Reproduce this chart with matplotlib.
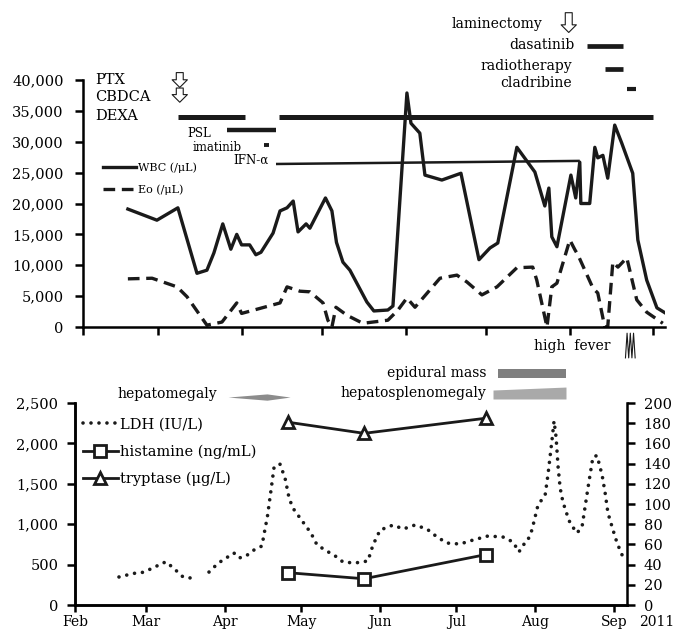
import numpy as np
import matplotlib
matplotlib.use('Agg')
import matplotlib.pyplot as plt
matplotlib.rcParams['font.family'] = 'DejaVu Serif'
matplotlib.rcParams['axes.spines.right'] = False
matplotlib.rcParams['axes.spines.top'] = False
matplotlib.rcParams['axes.linewidth'] = 1.8

# days counted from 1 Feb 2011
month_days = [0, 28, 59, 89, 120, 150, 181, 212]
month_labels = ['Feb', 'Mar', 'Apr', 'May', 'Jun', 'Jul', 'Aug', 'Sep']

wbc_day = [16.7, 27.5, 35.3, 42.4, 46.1, 48.7, 52.0, 55.0, 57.2, 59.0, 62.0, 64.3, 66.2, 70.7,
           73.3, 75.9, 78.2, 80.0, 83.0, 84.4, 90.2, 92.6, 94.3, 96.7, 99.3, 105.6, 108.2,
           113.4, 115.3, 120.5, 122.0, 125.3, 127.2, 133.5, 140.6, 147.3, 151.4, 154.3,
           161.4, 168.1, 171.8, 173.3, 174.4, 176.3, 181.5, 183.3, 184.8, 185.2, 188.5,
           190.4, 191.5, 193.4, 195.2, 197.8, 200.4, 204.5, 206.4, 209.7, 213.5, 216.5]
wbc = [19100, 17300, 19300, 8700, 9200, 12000, 16700, 12600, 15000, 13300, 13300, 11700,
       12100, 15200, 18800, 19300, 20400, 15400, 16700, 16000, 20900, 18800, 13700, 10500,
       9200, 4050, 2600, 2750, 3400, 37900, 33000, 31400, 24600, 23800, 24900, 10900, 12800,
       13600, 29100, 25100, 19600, 22500, 14600, 13000, 24600, 20900, 26700, 20000, 20000,
       29100, 27400, 27800, 24100, 32700, 29800, 24900, 14100, 7600, 3100, 2300]

eo_day = [16.7, 25.7, 35.0, 38.7, 46.1, 51.7, 57.2, 59.0, 73.3, 75.9, 80.7, 84.4, 89.3, 91.1,
          92.6, 94.1, 98.2, 104.1, 113.4, 117.1, 120.5, 123.5, 132.8, 139.1, 142.8, 148.4,
          154.0, 161.4, 167.3, 168.8, 172.6, 174.4, 176.3, 181.1, 183.0, 184.1, 189.7, 191.5,
          194.1, 195.2, 197.1, 199.0, 202.3, 206.0, 209.7, 215.7]
eo = [7800, 7900, 6500, 4900, 300, 800, 3900, 2200, 3900, 6500, 5800, 5700, 3900, 1100, 0,
      3200, 1900, 600, 1100, 2700, 4700, 3200, 7900, 8400, 7300, 5200, 6500, 9600, 9700, 7600,
      0, 6500, 7100, 14100, 12500, 11700, 6300, 5500, 0, 0, 10500, 9700, 11200, 4400, 2400, 600]

# treatments (start day, end day)
drug_names = ['DEXA', 'DEXA', 'PSL', 'imatinib', 'dasatinib', 'radiotherapy', 'cladribine']
drug_start = [35.3, 72.9, 53.6, 67.3, 187.4, 194.1, 202.3]
drug_stop = [60.2, 212.0, 71.8, 69.2, 200.8, 200.8, 205.6]
ifn_day = [71.8, 184.8]
chemo_day = 36.0
laminectomy_day = 180.7
fever_day = [201.8, 202.4, 203.0, 203.6, 204.2, 204.8, 205.4]

ldh_day = [17.3, 20.4, 23.2, 26.2, 28.8, 31.5, 34.2, 36.2, 38.5, 40.5, 42.5, 45.6, np.nan,
           52.7, 54.7, 57.0, 62.5, 64.5, 67.3, 69.6, 73.5, 74.5, 75.7, 77.0, 78.3, 80.6, 82.6,
           84.2, 85.7, 88.5, 92.8, 95.2, 100.3, 103.0, 105.4, 110.1, 115.2, 117.2, 120.0,
           125.1, 129.1, 133.7, 138.4, 142.4, 146.3, 151.4, 156.5, 162.4, 168.3, 172.3, 174.6,
           176.2, 177.8, 179.7, 182.1, 184.9, 186.0, 187.6, 188.4, 189.2, 190.0, 190.8, 191.9,
           193.3, 194.7, 197.4, 199.4, 200.6, 201.8, 203.7, 205.3, 207.3, 208.5, 209.6, 211.6,
           213.2, 215.5]
ldh = [347, 371, 392, 400, 433, 470, 520, 532, 458, 408, 347, 334, np.nan,
       408, 470, 532, 644, 582, 606, 668, 730, 900, 1100, 1400, 1708, 1745, 1572,
       1324, 1200, 1077, 891, 743, 644, 594, 532, 520, 545, 743, 928,
       990, 941, 990, 941, 842, 767, 755, 804, 854, 842, 780, 656,
       743, 780, 928, 1238, 1361, 1609, 2042, 2277, 2079, 1708, 1448, 1275,
       1139, 1015, 891, 965, 1213, 1460, 1832, 1850, 1609, 1386, 1139, 928,
       767, 594]

lab_day = [83.8, 113.7, 161.7]
histamine = [32, 26, 50]
tryptase = [181, 170, 185]

hepatomegaly_day = [60.2, 75.5, 84.6]
epidural_day = [166.4, 193.1]
hsm_day = [164.4, 193.1]

k = '#1a1a1a'
fig = plt.figure(figsize=(6.78, 6.33), dpi=100)

### WBC / Eo panel
ax = fig.add_axes([0.1224, 0.4834, 0.8584, 0.3902])
ax.plot(wbc_day, wbc, c=k, lw=2.4, label='WBC (/μL)')
ax.plot(eo_day, eo, c=k, lw=2.4, ls=(0, (3.5, 2)), label='Eo (/μL)')
ax.set_xlim(0, 216.5)
ax.set_ylim(0, 40000)
ax.set_yticks(range(0, 40001, 5000))
ax.set_yticklabels(['{:,}'.format(v) for v in range(0, 40001, 5000)])
ax.set_xticks(month_days)
ax.set_xticklabels([])
ax.tick_params(direction='out', length=6, width=1.8, labelsize=10.5, pad=8)

levels = [34000, 34000, 31900, 29500, 45500, 41800, 38500]
widths = [3.6, 3.6, 3.2, 2.8, 3.4, 3.4, 3.0]
for i in range(len(drug_names)):
    ax.plot([drug_start[i], drug_stop[i]], [levels[i], levels[i]], c=k, lw=widths[i],
            solid_capstyle='butt', clip_on=False)
ax.plot(ifn_day, [26400, 26900], c=k, lw=1.8, solid_capstyle='butt')

ax.text(4.5, 40000, 'PTX', fontsize=10.5, va='center')
ax.text(4.5, 37250, 'CBDCA', fontsize=10.5, va='center')
ax.text(4.5, 34150, 'DEXA', fontsize=10.5, va='center')
ax.text(47.6, 31400, 'PSL', fontsize=8.5, va='center', ha='right')
ax.text(59.1, 29150, 'imatinib', fontsize=8.5, va='center', ha='right')
ax.text(69.2, 27050, 'IFN-α', fontsize=8.5, va='center', ha='right')
ax.text(170.7, 49070, 'laminectomy', fontsize=10, va='center', ha='right')
ax.text(183.0, 45600, 'dasatinib', fontsize=10, va='center', ha='right')
ax.text(181.9, 42300, 'radiotherapy', fontsize=10, va='center', ha='right')
ax.text(181.9, 39500, 'cladribine', fontsize=10, va='center', ha='right')

arrow = dict(arrowstyle='simple,head_width=1.1,head_length=0.55,tail_width=0.5',
             fc='white', ec=k, lw=0.8, shrinkA=0, shrinkB=0)
ax.annotate('', xy=(chemo_day, 38800), xytext=(chemo_day, 41200), arrowprops=arrow,
            annotation_clip=False)
ax.annotate('', xy=(chemo_day, 36400), xytext=(chemo_day, 38700), arrowprops=arrow,
            annotation_clip=False)
ax.annotate('', xy=(laminectomy_day, 47700), xytext=(laminectomy_day, 50900),
            arrowprops=arrow, annotation_clip=False)

ax.text(181.9, -3100, 'high  fever', fontsize=10, va='center', ha='center')
ax.plot(fever_day, np.tile([-5000, -1000], 4)[:len(fever_day)], c=k, lw=0.8, clip_on=False)

ax.legend(loc='upper left', bbox_to_anchor=(0.034, 0.665), frameon=False, fontsize=8,
          handlelength=3.0, handletextpad=0.2, labelspacing=1.0, borderpad=0,
          borderaxespad=0)

### LDH / histamine / tryptase panel
bx = fig.add_axes([0.1106, 0.0442, 0.8142, 0.3191])
bx2 = bx.twinx()
bx2.spines['right'].set_visible(True)
l1, = bx.plot(ldh_day, ldh, c=k, lw=2.6, ls=(0, (0.01, 2.2)), dash_capstyle='round',
              label='LDH (IU/L)')
l2, = bx2.plot(lab_day, histamine, '-s', c=k, lw=2, ms=9, mfc='white', mew=2,
               label='histamine (ng/mL)')
l3, = bx2.plot(lab_day, tryptase, '-^', c=k, lw=2, ms=9, mfc='white', mew=2,
               label='tryptase (μg/L)')
bx.set_xlim(0, 217.1)
bx.set_ylim(0, 2500)
bx2.set_ylim(0, 200)
bx.set_yticks(range(0, 2501, 500))
bx.set_yticklabels(['{:,}'.format(v) for v in range(0, 2501, 500)])
bx2.set_yticks(range(0, 201, 20))
bx.set_xticks(month_days)
bx.set_xticklabels(month_labels)
bx.tick_params(axis='y', direction='out', length=6, width=1.8, labelsize=10.5, pad=6)
bx.tick_params(axis='x', direction='out', length=5, width=1.8, labelsize=10, pad=2)
bx2.tick_params(direction='out', length=6, width=1.8, labelsize=10.5, pad=6)
bx.text(1.054, -0.049, '2011', transform=bx.transAxes, fontsize=10, ha='center', va='top')

hm = bx.fill_between(hepatomegaly_day, [2574, 2535, 2574], [2574, 2613, 2574],
                     color='#8c8c8c', lw=0)
hm.set_clip_on(False)
em = bx.fill_between(epidural_day, 2815, 2920, color='#7f7f7f', lw=0)
em.set_clip_on(False)
hs = bx.fill_between(hsm_day, 2550, [2661, 2698], color='#a9a9a9', lw=0)
hs.set_clip_on(False)
bx.text(55.8, 2611, 'hepatomegaly', fontsize=10, ha='right', va='center')
bx.text(162.0, 2871, 'epidural mass', fontsize=10, ha='right', va='center')
bx.text(161.7, 2624, 'hepatosplenomegaly', fontsize=10, ha='right', va='center')

bx2.legend([l1, l2, l3], [l1.get_label(), l2.get_label(), l3.get_label()],
           loc='upper left', bbox_to_anchor=(0.0145, 0.93), frameon=False, fontsize=10.5,
           handlelength=2.4, handletextpad=0.15, labelspacing=0.9, borderpad=0,
           borderaxespad=0)

fig.savefig('out.png', dpi=100)
